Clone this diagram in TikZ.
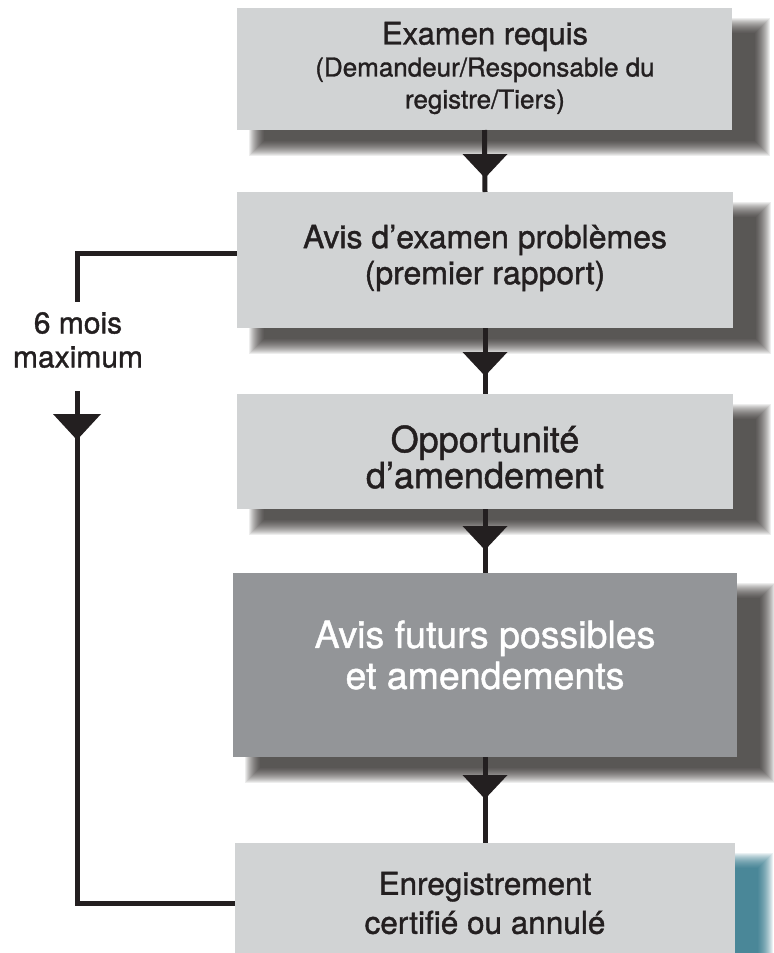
\documentclass[tikz,border=0pt]{standalone}
\usepackage{fontspec}
\setmainfont{TeX Gyre Heros}[FakeBold=1.2]
\usetikzlibrary{calc}
\definecolor{boxlight}{HTML}{D1D3D4}
\definecolor{boxdark}{HTML}{939598}
\definecolor{ink}{HTML}{231F20}
\definecolor{shadowgray}{HTML}{1C1816}
\definecolor{shadowteal}{HTML}{17657B}
% color, opacity per step, box x1 y1 x2 y2
\newcommand\softshadow[6]{%
  \foreach \k in {0,...,15}{\fill[#1,opacity=#2] (#3+12+\k,#4+10+\k) rectangle (#5+38-\k,#6+26-\k);}}
\newcommand\downtri[4]{\fill[ink] (#1,#2) ++(-#3/2,0) -- ++(#3,0) -- ++(-#3/2,#4) -- cycle;}
\tikzset{
  stepbox/.style={draw=none, inner sep=0pt, outer sep=0pt, fill=boxlight},
  darkbox/.style={stepbox, fill=boxdark},
  txt/.style={align=center, inner sep=0pt, text=ink},
  conn/.style={draw=ink, line width=5bp}
}
\begin{document}
\begin{tikzpicture}[x=1bp,y=-1bp]
\useasboundingbox (0,0) rectangle (774,953);
% shadows
\softshadow{shadowgray}{0.08}{237}{8}{732}{130}
\softshadow{shadowgray}{0.08}{237}{192}{733}{328}
\softshadow{shadowgray}{0.08}{237}{394}{733}{509}
\softshadow{shadowgray}{0.08}{233}{573}{737}{757}
\softshadow{shadowteal}{0.09}{235}{843}{735}{990}
% boxes
\node[stepbox, minimum width=495bp, minimum height=122bp] (b1) at (484.5,69) {};
\node[stepbox, minimum width=496bp, minimum height=136bp] (b2) at (485,260) {};
\node[stepbox, minimum width=496bp, minimum height=115bp] (b3) at (485,451.5) {};
\node[darkbox, minimum width=504bp, minimum height=184bp] (b4) at (485,665) {};
\node[stepbox, minimum width=500bp, minimum height=120bp] (b5) at (485,903) {};
% connectors
\draw[conn] (b1.south) -- (b2.north);
\draw[conn] (b2.south) -- (b3.north);
\draw[conn] (b3.south) -- (b4.north);
\draw[conn] (b4.south) -- (b5.north);
\downtri{485}{154}{45}{24}
\downtri{485}{352}{45}{24}
\downtri{485}{526}{45}{24}
\downtri{485}{775}{45}{24}
% feedback loop
\coordinate (fb1) at (77,302);
\coordinate (fb2) at (77,391);
\draw[conn] ($(b2.west)+(0,-7)$) -| (fb1);
\draw[conn] (fb2) |- (b5.west);
\downtri{77}{414}{48}{26}
\node[txt, font=\fontsize{30bp}{34bp}\selectfont] (lab) at (78,340) {6 mois\\maximum};
% texts
\node[txt, font=\fontsize{26bp}{32bp}\selectfont] (t1) at (485,68)
  {{\fontsize{31bp}{35bp}\selectfont Examen requis}\\(Demandeur/Responsable du\\registre/Tiers)};
\node[txt, font=\fontsize{32bp}{36bp}\selectfont] (t2) at (485,258)
  {Avis d’examen problèmes\\(premier rapport)};
\node[txt, font=\fontsize{36bp}{36bp}\selectfont] (t3) at (485,457)
  {Opportunité\\d’amendement};
\node[txt, text=white, font=\fontsize{37.5bp}{41bp}\selectfont] (t4) at (485,655)
  {Avis futurs possibles\\et amendements};
\node[txt, font=\fontsize{31.5bp}{39bp}\selectfont] (t5) at (485,903)
  {Enregistrement\\certifié ou annulé};
\end{tikzpicture}
\end{document}
